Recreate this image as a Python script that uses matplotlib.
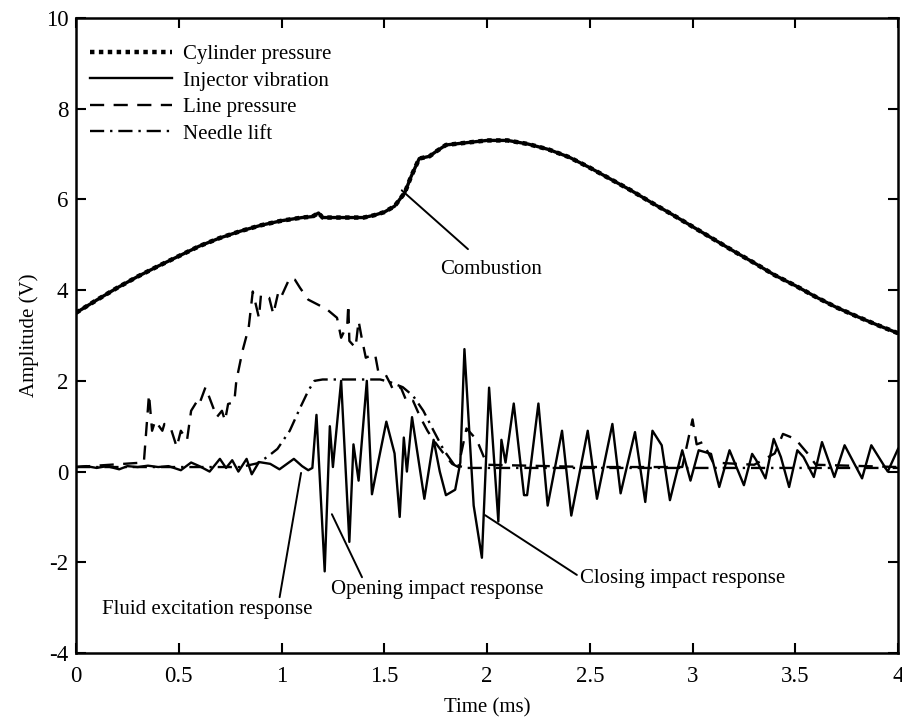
import numpy as np
import matplotlib
matplotlib.use("Agg")
from matplotlib import pyplot as plt

plt.rcParams['font.family'] = ['Liberation Serif', 'DejaVu Serif']
plt.rcParams['font.size'] = 15
plt.rcParams['axes.unicode_minus'] = False

# cylinder pressure (dotted)
cyl_t = [0, 0.1, 0.2, 0.3, 0.4, 0.5, 0.6, 0.7, 0.8, 0.9, 1.0, 1.1, 1.15, 1.18, 1.2,
         1.3, 1.4, 1.45, 1.5, 1.55, 1.6, 1.63, 1.67, 1.72, 1.75, 1.8, 1.9, 2.0, 2.1,
         2.2, 2.3, 2.4, 2.5, 2.6, 2.7, 2.8, 2.9, 3.0, 3.1, 3.2, 3.3, 3.4, 3.5, 3.6,
         3.7, 3.8, 3.9, 4.0]
cyl_v = [3.5, 3.78, 4.05, 4.3, 4.53, 4.75, 4.97, 5.15, 5.3, 5.43, 5.53, 5.6, 5.62, 5.7, 5.6,
         5.6, 5.6, 5.65, 5.72, 5.85, 6.15, 6.5, 6.9, 6.95, 7.05, 7.2, 7.25, 7.3, 7.3,
         7.22, 7.1, 6.93, 6.7, 6.45, 6.2, 5.93, 5.67, 5.4, 5.13, 4.86, 4.6, 4.33, 4.1, 3.85,
         3.62, 3.42, 3.23, 3.05]

# injector vibration (solid)
vib_t = [0, 0.05, 0.1, 0.15, 0.21, 0.25, 0.3, 0.35, 0.4, 0.45, 0.51, 0.56, 0.6, 0.65,
         0.7, 0.73, 0.76, 0.79, 0.83, 0.855, 0.89, 0.945, 0.99, 1.06, 1.1, 1.13, 1.15,
         1.17, 1.21, 1.235, 1.25, 1.29, 1.33, 1.35, 1.375, 1.415, 1.44, 1.47, 1.51, 1.55,
         1.575, 1.595, 1.61, 1.635, 1.695, 1.74, 1.77, 1.8, 1.845, 1.87, 1.89, 1.935,
         1.975, 2.01, 2.055, 2.07, 2.09, 2.13, 2.18, 2.195, 2.25, 2.295, 2.365, 2.41,
         2.49, 2.535, 2.61, 2.65, 2.72, 2.77, 2.805, 2.85, 2.89, 2.95, 2.99, 3.03, 3.09,
         3.13, 3.18, 3.2, 3.25, 3.29, 3.31, 3.355, 3.395, 3.43, 3.47, 3.51, 3.54, 3.59,
         3.63, 3.69, 3.74, 3.825, 3.87, 3.95, 4.0]
vib_v = [0.1, 0.12, 0.08, 0.12, 0.05, 0.12, 0.1, 0.13, 0.1, 0.12, 0.03, 0.2, 0.12, 0.0,
         0.28, 0.08, 0.25, 0.0, 0.28, -0.06, 0.21, 0.17, 0.05, 0.28, 0.12, 0.03, 0.08,
         1.25, -2.2, 1.0, 0.1, 2.0, -1.55, 0.6, -0.2, 2.0, -0.5, 0.2, 1.1, 0.4,
         -1.0, 0.75, 0.0, 1.2, -0.6, 0.7, 0.0, -0.52, -0.4, 0.2, 2.7, -0.75,
         -1.9, 1.85, -1.1, 0.7, 0.2, 1.5, -0.52, -0.52, 1.5, -0.75, 0.9, -0.97,
         0.9, -0.6, 1.05, -0.48, 0.87, -0.67, 0.9, 0.58, -0.63, 0.47, -0.2, 0.47, 0.39,
         -0.34, 0.47, 0.25, -0.3, 0.39, 0.25, -0.15, 0.72, 0.32, -0.34, 0.47, 0.32, -0.12,
         0.65, -0.12, 0.58, -0.15, 0.58, 0.0, 0.5]

# line pressure (dashed)
line_t = [0, 0.33, 0.355, 0.37, 0.385, 0.42, 0.43, 0.46, 0.49, 0.51, 0.54, 0.56, 0.59,
          0.6, 0.63, 0.66, 0.685, 0.71, 0.725, 0.74, 0.77, 0.78, 0.81, 0.84, 0.86, 0.89,
          0.9, 0.94, 0.96, 0.985, 1.0, 1.04, 1.065, 1.09, 1.13, 1.19, 1.22, 1.27, 1.29,
          1.32, 1.325, 1.33, 1.36, 1.375, 1.39, 1.41, 1.43, 1.455, 1.47, 1.505, 1.53,
          1.545, 1.58, 1.61, 1.64, 1.675, 1.71, 1.74, 1.79, 1.83, 1.86, 1.9, 1.95, 2.0,
          2.5, 2.95, 3.0, 3.02, 3.05, 3.1, 3.3, 3.4, 3.44, 3.5, 3.56, 3.6, 4.0]
line_v = [0.1, 0.2, 1.7, 0.9, 1.12, 0.9, 1.05, 0.97, 0.54, 0.9, 0.69, 1.34, 1.56,
          1.49, 1.86, 1.5, 1.2, 1.34, 1.12, 1.49, 1.53, 2.0, 2.66, 3.17, 3.97, 3.39,
          3.9, 3.83, 3.47, 3.97, 3.87, 4.27, 4.23, 4.05, 3.79, 3.65, 3.58, 3.39, 2.95,
          3.24, 3.68, 2.88, 2.73, 3.32, 2.95, 2.51, 2.55, 2.59, 2.22, 2.15, 1.93,
          1.78, 1.86, 1.53, 1.56, 1.2, 0.9, 0.69, 0.39, 0.17, 0.1, 0.95, 0.7, 0.15,
          0.1, 0.1, 1.15, 0.6, 0.65, 0.2, 0.15, 0.4, 0.83, 0.72, 0.4, 0.15, 0.1]

# needle lift (dash-dot)
needle_t = [0, 0.8, 0.88, 0.93, 0.98, 1.04, 1.09, 1.13, 1.16, 1.2, 1.48, 1.53, 1.59,
            1.64, 1.69, 1.74, 1.79, 1.84, 1.9, 4.0]
needle_v = [0.1, 0.1, 0.18, 0.32, 0.5, 0.9, 1.4, 1.78, 2.0, 2.03, 2.03, 1.97, 1.86,
            1.67, 1.34, 0.9, 0.47, 0.15, 0.08, 0.08]

fig = plt.figure(figsize=(9.02, 7.18), dpi=100)
ax = fig.add_axes([0.0843, 0.0905, 0.9113, 0.8845])

ax.plot(vib_t, vib_v, color='black', lw=1.7, label='Injector vibration')
ax.plot(line_t, line_v, color='black', lw=1.7, dashes=(6, 4), label='Line pressure')
ax.plot(needle_t, needle_v, color='black', lw=1.7, dashes=(6, 2.5, 1, 2.5), label='Needle lift')
# dense scan dots read as an almost solid band, so a solid core goes under the dots
ax.plot(cyl_t, cyl_v, color='black', lw=2.4)
ax.plot(cyl_t, cyl_v, color='black', lw=3.2, dashes=(1, 1), label='Cylinder pressure')

h, l = ax.get_legend_handles_labels()
order = [3, 0, 1, 2]
ax.legend([h[i] for i in order], [l[i] for i in order], loc='upper left',
          bbox_to_anchor=(0.017, 0.958), borderaxespad=0, borderpad=0, frameon=False,
          handlelength=3.95, handletextpad=0.53, labelspacing=0.33)

ax.set_xlim(0, 4)
ax.set_ylim(-4, 10)
ax.set_xticks([0, 0.5, 1, 1.5, 2, 2.5, 3, 3.5, 4])
ax.set_xticklabels(['0', '0.5', '1', '1.5', '2', '2.5', '3', '3.5', '4'])
ax.set_yticks([-4, -2, 0, 2, 4, 6, 8, 10])
ax.tick_params(direction='in', length=7, width=1.5, top=True, right=True, labelsize=16.5)
ax.tick_params(axis='x', pad=9.5)
ax.tick_params(axis='y', pad=5.5)
for s in ax.spines.values():
    s.set_linewidth(1.8)

ax.set_xlabel('Time (ms)', labelpad=8)
ax.set_ylabel('Amplitude (V)', labelpad=5)

# annotations with leader lines
ax.annotate('Combustion', xy=(1.585, 6.2), xytext=(2.02, 4.45), ha='center', va='center',
            arrowprops=dict(arrowstyle='-', color='black', lw=1.4, shrinkA=9, shrinkB=0))
ax.annotate('Fluid excitation response', xy=(1.095, -0.03), xytext=(0.64, -3.04),
            ha='center', va='center',
            arrowprops=dict(arrowstyle='-', color='black', lw=1.4, shrinkA=0, shrinkB=0,
                            relpos=(0.84, 1.0)))
ax.annotate('Opening impact response', xy=(1.245, -0.94), xytext=(1.76, -2.6),
            ha='center', va='center',
            arrowprops=dict(arrowstyle='-', color='black', lw=1.4, shrinkA=0, shrinkB=0,
                            relpos=(0.15, 1.0)))
ax.annotate('Closing impact response', xy=(1.99, -0.96), xytext=(2.95, -2.36),
            ha='center', va='center',
            arrowprops=dict(arrowstyle='-', color='black', lw=1.4, shrinkA=0, shrinkB=0,
                            relpos=(0.0, 0.6)))

fig.savefig('out.png', dpi=100)
